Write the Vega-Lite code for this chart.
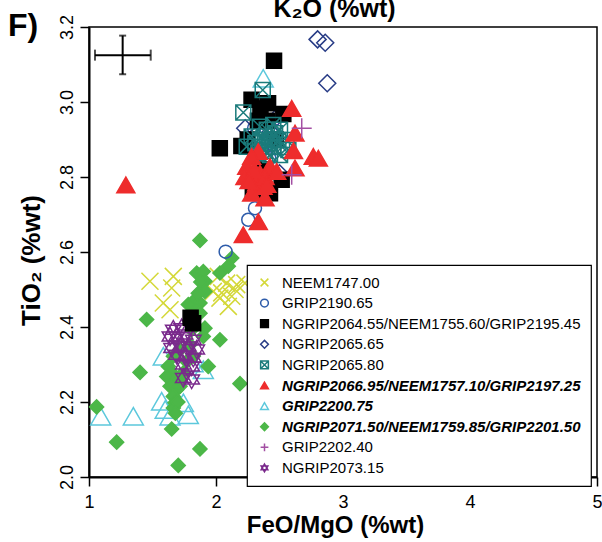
{
  "$schema": "https://vega.github.io/schema/vega-lite/v6.json",
  "autosize": "none",
  "width": 508,
  "height": 450,
  "padding": {"left": 89, "top": 27, "right": 5, "bottom": 65},
  "background": "white",
  "title": {"text": "F)", "anchor": "start", "frame": "group", "fontSize": 32, "font": "Liberation Sans", "fontWeight": "bold", "color": "black", "dx": -81, "dy": 72, "baseline": "alphabetic", "offset": 0},
  "config": {
    "view": {"stroke": "black", "strokeWidth": 1.5},
    "axis": {"domainColor": "black", "domainWidth": 2, "tickColor": "black", "tickWidth": 1.5, "tickSize": 9, "labelColor": "black", "titleColor": "black", "labelFont": "Liberation Sans", "titleFont": "Liberation Sans", "titleFontWeight": "bold", "grid": false},
    "legend": {"orient": "none", "legendX": 158, "legendY": 238, "strokeColor": "black", "strokeWidth": 1.2, "fillColor": "white", "padding": 10, "labelFont": "Liberation Sans", "labelFontSize": 15, "labelColor": "black", "labelLimit": 400, "symbolSize": 60, "symbolStrokeWidth": 1.5, "rowPadding": 4.6, "labelOffset": 10}
  },
  "datasets": {
    "pts": [
      {"s": "GRIP2200.75", "x": 1.092, "y": 2.162},
      {"s": "GRIP2200.75", "x": 1.349, "y": 2.162},
      {"s": "GRIP2200.75", "x": 1.585, "y": 2.322},
      {"s": "GRIP2200.75", "x": 1.9, "y": 2.286},
      {"s": "GRIP2200.75", "x": 1.572, "y": 2.202},
      {"s": "GRIP2200.75", "x": 1.638, "y": 2.162},
      {"s": "GRIP2200.75", "x": 1.743, "y": 2.198},
      {"s": "GRIP2200.75", "x": 1.782, "y": 2.166},
      {"s": "GRIP2200.75", "x": 1.82, "y": 2.304},
      {"s": "GRIP2200.75", "x": 1.6, "y": 2.18},
      {"s": "GRIP2200.75", "x": 2.372, "y": 3.063},
      {"s": "GRIP2200.75", "x": 2.4, "y": 2.9},
      {"s": "NEEM1747.00", "x": 1.48, "y": 2.522},
      {"s": "NEEM1747.00", "x": 1.664, "y": 2.535},
      {"s": "NEEM1747.00", "x": 1.651, "y": 2.504},
      {"s": "NEEM1747.00", "x": 1.585, "y": 2.464},
      {"s": "NEEM1747.00", "x": 1.638, "y": 2.446},
      {"s": "NEEM1747.00", "x": 2.018, "y": 2.535},
      {"s": "NEEM1747.00", "x": 2.084, "y": 2.517},
      {"s": "NEEM1747.00", "x": 2.163, "y": 2.513},
      {"s": "NEEM1747.00", "x": 2.228, "y": 2.517},
      {"s": "NEEM1747.00", "x": 1.979, "y": 2.495},
      {"s": "NEEM1747.00", "x": 2.045, "y": 2.491},
      {"s": "NEEM1747.00", "x": 2.124, "y": 2.482},
      {"s": "NEEM1747.00", "x": 2.097, "y": 2.455},
      {"s": "NEEM1747.00", "x": 2.031, "y": 2.477},
      {"s": "NEEM1747.00", "x": 2.15, "y": 2.5},
      {"s": "NGRIP2071.50/NEEM1759.85/GRIP2201.50", "x": 1.874, "y": 2.631},
      {"s": "NGRIP2071.50/NEEM1759.85/GRIP2201.50", "x": 2.124, "y": 2.584},
      {"s": "NGRIP2071.50/NEEM1759.85/GRIP2201.50", "x": 2.097, "y": 2.562},
      {"s": "NGRIP2071.50/NEEM1759.85/GRIP2201.50", "x": 2.031, "y": 2.544},
      {"s": "NGRIP2071.50/NEEM1759.85/GRIP2201.50", "x": 1.848, "y": 2.544},
      {"s": "NGRIP2071.50/NEEM1759.85/GRIP2201.50", "x": 1.9, "y": 2.548},
      {"s": "NGRIP2071.50/NEEM1759.85/GRIP2201.50", "x": 1.913, "y": 2.522},
      {"s": "NGRIP2071.50/NEEM1759.85/GRIP2201.50", "x": 1.913, "y": 2.495},
      {"s": "NGRIP2071.50/NEEM1759.85/GRIP2201.50", "x": 1.821, "y": 2.468},
      {"s": "NGRIP2071.50/NEEM1759.85/GRIP2201.50", "x": 1.874, "y": 2.464},
      {"s": "NGRIP2071.50/NEEM1759.85/GRIP2201.50", "x": 1.835, "y": 2.451},
      {"s": "NGRIP2071.50/NEEM1759.85/GRIP2201.50", "x": 1.874, "y": 2.437},
      {"s": "NGRIP2071.50/NEEM1759.85/GRIP2201.50", "x": 1.454, "y": 2.42},
      {"s": "NGRIP2071.50/NEEM1759.85/GRIP2201.50", "x": 1.913, "y": 2.397},
      {"s": "NGRIP2071.50/NEEM1759.85/GRIP2201.50", "x": 1.9, "y": 2.375},
      {"s": "NGRIP2071.50/NEEM1759.85/GRIP2201.50", "x": 2.031, "y": 2.366},
      {"s": "NGRIP2071.50/NEEM1759.85/GRIP2201.50", "x": 1.402, "y": 2.279},
      {"s": "NGRIP2071.50/NEEM1759.85/GRIP2201.50", "x": 1.939, "y": 2.295},
      {"s": "NGRIP2071.50/NEEM1759.85/GRIP2201.50", "x": 2.189, "y": 2.249},
      {"s": "NGRIP2071.50/NEEM1759.85/GRIP2201.50", "x": 1.06, "y": 2.187},
      {"s": "NGRIP2071.50/NEEM1759.85/GRIP2201.50", "x": 1.218, "y": 2.093},
      {"s": "NGRIP2071.50/NEEM1759.85/GRIP2201.50", "x": 1.651, "y": 2.128},
      {"s": "NGRIP2071.50/NEEM1759.85/GRIP2201.50", "x": 1.874, "y": 2.075},
      {"s": "NGRIP2071.50/NEEM1759.85/GRIP2201.50", "x": 1.703, "y": 2.031},
      {"s": "NGRIP2071.50/NEEM1759.85/GRIP2201.50", "x": 1.625, "y": 2.295},
      {"s": "NGRIP2071.50/NEEM1759.85/GRIP2201.50", "x": 1.651, "y": 2.278},
      {"s": "NGRIP2071.50/NEEM1759.85/GRIP2201.50", "x": 1.612, "y": 2.268},
      {"s": "NGRIP2071.50/NEEM1759.85/GRIP2201.50", "x": 1.677, "y": 2.26},
      {"s": "NGRIP2071.50/NEEM1759.85/GRIP2201.50", "x": 1.638, "y": 2.242},
      {"s": "NGRIP2071.50/NEEM1759.85/GRIP2201.50", "x": 1.69, "y": 2.233},
      {"s": "NGRIP2071.50/NEEM1759.85/GRIP2201.50", "x": 1.664, "y": 2.215},
      {"s": "NGRIP2071.50/NEEM1759.85/GRIP2201.50", "x": 1.717, "y": 2.242},
      {"s": "NGRIP2071.50/NEEM1759.85/GRIP2201.50", "x": 1.677, "y": 2.198},
      {"s": "NGRIP2071.50/NEEM1759.85/GRIP2201.50", "x": 1.664, "y": 2.184},
      {"s": "NGRIP2071.50/NEEM1759.85/GRIP2201.50", "x": 1.743, "y": 2.278},
      {"s": "NGRIP2071.50/NEEM1759.85/GRIP2201.50", "x": 1.769, "y": 2.308},
      {"s": "NGRIP2071.50/NEEM1759.85/GRIP2201.50", "x": 1.717, "y": 2.34},
      {"s": "NGRIP2071.50/NEEM1759.85/GRIP2201.50", "x": 1.795, "y": 2.353},
      {"s": "NGRIP2071.50/NEEM1759.85/GRIP2201.50", "x": 1.664, "y": 2.322},
      {"s": "NGRIP2071.50/NEEM1759.85/GRIP2201.50", "x": 1.821, "y": 2.322},
      {"s": "NGRIP2071.50/NEEM1759.85/GRIP2201.50", "x": 1.808, "y": 2.393},
      {"s": "NGRIP2071.50/NEEM1759.85/GRIP2201.50", "x": 1.782, "y": 2.46},
      {"s": "NGRIP2071.50/NEEM1759.85/GRIP2201.50", "x": 1.86, "y": 2.49},
      {"s": "NGRIP2071.50/NEEM1759.85/GRIP2201.50", "x": 1.88, "y": 2.52},
      {"s": "NGRIP2071.50/NEEM1759.85/GRIP2201.50", "x": 1.7, "y": 2.2},
      {"s": "NGRIP2071.50/NEEM1759.85/GRIP2201.50", "x": 1.68, "y": 2.17},
      {"s": "NGRIP2071.50/NEEM1759.85/GRIP2201.50", "x": 1.72, "y": 2.26},
      {"s": "NGRIP2073.15", "x": 1.664, "y": 2.393},
      {"s": "NGRIP2073.15", "x": 1.73, "y": 2.397},
      {"s": "NGRIP2073.15", "x": 1.69, "y": 2.375},
      {"s": "NGRIP2073.15", "x": 1.756, "y": 2.38},
      {"s": "NGRIP2073.15", "x": 1.821, "y": 2.366},
      {"s": "NGRIP2073.15", "x": 1.651, "y": 2.344},
      {"s": "NGRIP2073.15", "x": 1.717, "y": 2.348},
      {"s": "NGRIP2073.15", "x": 1.782, "y": 2.348},
      {"s": "NGRIP2073.15", "x": 1.848, "y": 2.34},
      {"s": "NGRIP2073.15", "x": 1.69, "y": 2.326},
      {"s": "NGRIP2073.15", "x": 1.756, "y": 2.322},
      {"s": "NGRIP2073.15", "x": 1.821, "y": 2.318},
      {"s": "NGRIP2073.15", "x": 1.743, "y": 2.3},
      {"s": "NGRIP2073.15", "x": 1.808, "y": 2.295},
      {"s": "NGRIP2073.15", "x": 1.743, "y": 2.264},
      {"s": "NGRIP2073.15", "x": 1.808, "y": 2.26},
      {"s": "NGRIP2073.15", "x": 1.638, "y": 2.375},
      {"s": "GRIP2190.65", "x": 2.307, "y": 2.717},
      {"s": "GRIP2190.65", "x": 2.254, "y": 2.686},
      {"s": "GRIP2190.65", "x": 2.076, "y": 2.601},
      {"s": "GRIP2190.65", "x": 2.42, "y": 2.85},
      {"s": "GRIP2190.65", "x": 2.3, "y": 2.93},
      {"s": "NGRIP2065.65", "x": 2.8, "y": 3.167},
      {"s": "NGRIP2065.65", "x": 2.86, "y": 3.158},
      {"s": "NGRIP2065.65", "x": 2.876, "y": 3.05},
      {"s": "NGRIP2065.65", "x": 2.48, "y": 2.96},
      {"s": "NGRIP2065.65", "x": 2.23, "y": 2.93},
      {"s": "NGRIP2065.65", "x": 2.5, "y": 2.81},
      {"s": "NGRIP2065.65", "x": 2.43, "y": 2.92},
      {"s": "NGRIP2065.65", "x": 2.36, "y": 2.87},
      {"s": "NGRIP2065.65", "x": 2.46, "y": 2.79},
      {"s": "NGRIP2064.55/NEEM1755.60/GRIP2195.45", "x": 2.457, "y": 3.11},
      {"s": "NGRIP2064.55/NEEM1755.60/GRIP2195.45", "x": 2.28, "y": 3.006},
      {"s": "NGRIP2064.55/NEEM1755.60/GRIP2195.45", "x": 2.41, "y": 2.997},
      {"s": "NGRIP2064.55/NEEM1755.60/GRIP2195.45", "x": 2.35, "y": 2.983},
      {"s": "NGRIP2064.55/NEEM1755.60/GRIP2195.45", "x": 2.53, "y": 2.968},
      {"s": "NGRIP2064.55/NEEM1755.60/GRIP2195.45", "x": 2.03, "y": 2.877},
      {"s": "NGRIP2064.55/NEEM1755.60/GRIP2195.45", "x": 2.2, "y": 2.883},
      {"s": "NGRIP2064.55/NEEM1755.60/GRIP2195.45", "x": 2.31, "y": 2.788},
      {"s": "NGRIP2064.55/NEEM1755.60/GRIP2195.45", "x": 2.425, "y": 2.757},
      {"s": "NGRIP2064.55/NEEM1755.60/GRIP2195.45", "x": 2.517, "y": 2.793},
      {"s": "NGRIP2064.55/NEEM1755.60/GRIP2195.45", "x": 1.8, "y": 2.425},
      {"s": "NGRIP2064.55/NEEM1755.60/GRIP2195.45", "x": 1.82, "y": 2.41},
      {"s": "NGRIP2064.55/NEEM1755.60/GRIP2195.45", "x": 2.33, "y": 2.95},
      {"s": "NGRIP2064.55/NEEM1755.60/GRIP2195.45", "x": 2.4, "y": 2.95},
      {"s": "NGRIP2064.55/NEEM1755.60/GRIP2195.45", "x": 2.47, "y": 2.9},
      {"s": "NGRIP2064.55/NEEM1755.60/GRIP2195.45", "x": 2.25, "y": 2.9},
      {"s": "NGRIP2064.55/NEEM1755.60/GRIP2195.45", "x": 2.36, "y": 2.82},
      {"s": "NGRIP2064.55/NEEM1755.60/GRIP2195.45", "x": 2.29, "y": 2.76},
      {"s": "NGRIP2065.80", "x": 2.368, "y": 3.032},
      {"s": "NGRIP2065.80", "x": 2.215, "y": 2.972},
      {"s": "NGRIP2065.80", "x": 2.346, "y": 2.934},
      {"s": "NGRIP2065.80", "x": 2.451, "y": 2.939},
      {"s": "NGRIP2065.80", "x": 2.504, "y": 2.926},
      {"s": "NGRIP2065.80", "x": 2.281, "y": 2.908},
      {"s": "NGRIP2065.80", "x": 2.386, "y": 2.908},
      {"s": "NGRIP2065.80", "x": 2.491, "y": 2.899},
      {"s": "NGRIP2065.80", "x": 2.556, "y": 2.899},
      {"s": "NGRIP2065.80", "x": 2.242, "y": 2.881},
      {"s": "NGRIP2065.80", "x": 2.346, "y": 2.881},
      {"s": "NGRIP2065.80", "x": 2.451, "y": 2.881},
      {"s": "NGRIP2065.80", "x": 2.57, "y": 2.872},
      {"s": "NGRIP2065.80", "x": 2.333, "y": 2.864},
      {"s": "NGRIP2065.80", "x": 2.425, "y": 2.859},
      {"s": "NGRIP2065.80", "x": 2.504, "y": 2.859},
      {"s": "NGRIP2065.80", "x": 2.4, "y": 2.926},
      {"s": "NGRIP2065.80", "x": 2.465, "y": 2.917},
      {"s": "NGRIP2065.80", "x": 2.37, "y": 2.899},
      {"s": "NGRIP2065.80", "x": 2.31, "y": 2.89},
      {"s": "NGRIP2065.80", "x": 2.42, "y": 2.89},
      {"s": "NGRIP2065.80", "x": 2.52, "y": 2.88},
      {"s": "NGRIP2065.80", "x": 2.38, "y": 2.87},
      {"s": "NGRIP2065.80", "x": 2.44, "y": 2.9},
      {"s": "NGRIP2066.95/NEEM1757.10/GRIP2197.25", "x": 2.596, "y": 2.983},
      {"s": "NGRIP2066.95/NEEM1757.10/GRIP2197.25", "x": 2.622, "y": 2.917},
      {"s": "NGRIP2066.95/NEEM1757.10/GRIP2197.25", "x": 2.766, "y": 2.855},
      {"s": "NGRIP2066.95/NEEM1757.10/GRIP2197.25", "x": 2.806, "y": 2.85},
      {"s": "NGRIP2066.95/NEEM1757.10/GRIP2197.25", "x": 2.622, "y": 2.824},
      {"s": "NGRIP2066.95/NEEM1757.10/GRIP2197.25", "x": 2.333, "y": 2.868},
      {"s": "NGRIP2066.95/NEEM1757.10/GRIP2197.25", "x": 2.242, "y": 2.828},
      {"s": "NGRIP2066.95/NEEM1757.10/GRIP2197.25", "x": 2.425, "y": 2.828},
      {"s": "NGRIP2066.95/NEEM1757.10/GRIP2197.25", "x": 2.478, "y": 2.815},
      {"s": "NGRIP2066.95/NEEM1757.10/GRIP2197.25", "x": 2.228, "y": 2.801},
      {"s": "NGRIP2066.95/NEEM1757.10/GRIP2197.25", "x": 2.346, "y": 2.81},
      {"s": "NGRIP2066.95/NEEM1757.10/GRIP2197.25", "x": 2.32, "y": 2.784},
      {"s": "NGRIP2066.95/NEEM1757.10/GRIP2197.25", "x": 2.281, "y": 2.757},
      {"s": "NGRIP2066.95/NEEM1757.10/GRIP2197.25", "x": 2.386, "y": 2.744},
      {"s": "NGRIP2066.95/NEEM1757.10/GRIP2197.25", "x": 2.333, "y": 2.681},
      {"s": "NGRIP2066.95/NEEM1757.10/GRIP2197.25", "x": 2.215, "y": 2.646},
      {"s": "NGRIP2066.95/NEEM1757.10/GRIP2197.25", "x": 2.37, "y": 2.775},
      {"s": "NGRIP2066.95/NEEM1757.10/GRIP2197.25", "x": 2.386, "y": 2.801},
      {"s": "NGRIP2066.95/NEEM1757.10/GRIP2197.25", "x": 2.281, "y": 2.855},
      {"s": "NGRIP2066.95/NEEM1757.10/GRIP2197.25", "x": 1.29, "y": 2.779},
      {"s": "NGRIP2066.95/NEEM1757.10/GRIP2197.25", "x": 2.3, "y": 2.82},
      {"s": "NGRIP2066.95/NEEM1757.10/GRIP2197.25", "x": 2.4, "y": 2.78},
      {"s": "NGRIP2066.95/NEEM1757.10/GRIP2197.25", "x": 2.61, "y": 2.87},
      {"s": "NGRIP2066.95/NEEM1757.10/GRIP2197.25", "x": 2.26, "y": 2.79},
      {"s": "GRIP2202.40", "x": 2.675, "y": 2.93},
      {"s": "GRIP2202.40", "x": 2.596, "y": 2.806}
    ],
    "errh": [{"x": 1.047, "x2": 1.486, "y": 3.125}],
    "errv": [{"x": 1.265, "y": 3.074, "y2": 3.177}]
  },
  "layer": [
    {
      "data": {"name": "pts"},
      "mark": {"type": "point", "opacity": 1, "strokeWidth": 1.5},
      "encoding": {
        "x": {"field": "x", "type": "quantitative", "scale": {"domain": [1, 5], "nice": false, "zero": false},
          "axis": {"orient": "bottom", "values": [1, 2, 3, 4, 5], "format": "d", "title": "FeO/MgO (%wt)", "titleFontSize": 24, "titleX": 246, "titleY": 55, "titleBaseline": "alphabetic", "titleAlign": "center", "labelFontSize": 18, "labelPadding": 7, "labelFlush": false, "labelOverlap": false}},
        "y": {"field": "y", "type": "quantitative", "scale": {"domain": [2, 3.2], "nice": false, "zero": false},
          "axis": {"values": [2, 2.2, 2.4, 2.6, 2.8, 3, 3.2], "format": ".1f", "labelAngle": -90, "labelAlign": "center", "labelBaseline": "bottom", "labelFontSize": 18, "labelPadding": 4, "labelFlush": false, "labelOverlap": false, "title": "TiO₂ (%wt)", "titleFontSize": 26, "titleX": -58, "titleY": 233, "titleAlign": "center", "titleBaseline": "middle", "titleAngle": -90}},
        "shape": {"field": "s", "type": "nominal", "title": null,
          "scale": {"domain": ["NEEM1747.00", "GRIP2190.65", "NGRIP2064.55/NEEM1755.60/GRIP2195.45", "NGRIP2065.65", "NGRIP2065.80", "NGRIP2066.95/NEEM1757.10/GRIP2197.25", "GRIP2200.75", "NGRIP2071.50/NEEM1759.85/GRIP2201.50", "GRIP2202.40", "NGRIP2073.15"],
            "range": ["M-1,-1L1,1M1,-1L-1,1", "circle", "square", "diamond", "M-1,-1H1V1H-1ZM-1,-1L1,1M1,-1L-1,1", "triangle-up", "triangle-up", "diamond", "M-1,0H1M0,-1V1", "M0,-1L0.866,0.5L-0.866,0.5ZM0,1L-0.866,-0.5L0.866,-0.5Z"]},
          "legend": {"title": null, "orient": "none", "legendX": 158, "legendY": 238,
            "labelFontWeight": {"expr": "indexof(['NGRIP2066.95/NEEM1757.10/GRIP2197.25','GRIP2200.75','NGRIP2071.50/NEEM1759.85/GRIP2201.50'], datum.label) >= 0 ? 'bold' : 'normal'"},
            "labelFontStyle": {"expr": "indexof(['NGRIP2066.95/NEEM1757.10/GRIP2197.25','GRIP2200.75','NGRIP2071.50/NEEM1759.85/GRIP2201.50'], datum.label) >= 0 ? 'italic' : 'normal'"}}},
        "fill": {"field": "s", "type": "nominal", "title": null,
          "scale": {"domain": ["NEEM1747.00", "GRIP2190.65", "NGRIP2064.55/NEEM1755.60/GRIP2195.45", "NGRIP2065.65", "NGRIP2065.80", "NGRIP2066.95/NEEM1757.10/GRIP2197.25", "GRIP2200.75", "NGRIP2071.50/NEEM1759.85/GRIP2201.50", "GRIP2202.40", "NGRIP2073.15"],
            "range": ["transparent", "transparent", "#000000", "transparent", "transparent", "#ee2c2c", "transparent", "#4cb748", "transparent", "transparent"]},
          "legend": {"title": null, "orient": "none", "legendX": 158, "legendY": 238,
            "labelFontWeight": {"expr": "indexof(['NGRIP2066.95/NEEM1757.10/GRIP2197.25','GRIP2200.75','NGRIP2071.50/NEEM1759.85/GRIP2201.50'], datum.label) >= 0 ? 'bold' : 'normal'"},
            "labelFontStyle": {"expr": "indexof(['NGRIP2066.95/NEEM1757.10/GRIP2197.25','GRIP2200.75','NGRIP2071.50/NEEM1759.85/GRIP2201.50'], datum.label) >= 0 ? 'italic' : 'normal'"}}},
        "stroke": {"field": "s", "type": "nominal", "title": null,
          "scale": {"domain": ["NEEM1747.00", "GRIP2190.65", "NGRIP2064.55/NEEM1755.60/GRIP2195.45", "NGRIP2065.65", "NGRIP2065.80", "NGRIP2066.95/NEEM1757.10/GRIP2197.25", "GRIP2200.75", "NGRIP2071.50/NEEM1759.85/GRIP2201.50", "GRIP2202.40", "NGRIP2073.15"],
            "range": ["#d4d838", "#2e5caa", "#000000", "#283c86", "#1b7b7b", "#ee2c2c", "#5cc8dc", "#4cb748", "#a34fa3", "#7a2a8c"]},
          "legend": {"title": null, "orient": "none", "legendX": 158, "legendY": 238,
            "labelFontWeight": {"expr": "indexof(['NGRIP2066.95/NEEM1757.10/GRIP2197.25','GRIP2200.75','NGRIP2071.50/NEEM1759.85/GRIP2201.50'], datum.label) >= 0 ? 'bold' : 'normal'"},
            "labelFontStyle": {"expr": "indexof(['NGRIP2066.95/NEEM1757.10/GRIP2197.25','GRIP2200.75','NGRIP2071.50/NEEM1759.85/GRIP2201.50'], datum.label) >= 0 ? 'italic' : 'normal'"}}},
        "size": {"field": "s", "type": "nominal", "legend": null,
          "scale": {"type": "ordinal", "domain": ["NGRIP2073.15", "GRIP2202.40", "NGRIP2071.50/NEEM1759.85/GRIP2201.50", "GRIP2200.75", "NGRIP2066.95/NEEM1757.10/GRIP2197.25", "NGRIP2065.80", "NGRIP2065.65", "NGRIP2064.55/NEEM1755.60/GRIP2195.45", "GRIP2190.65", "NEEM1747.00"],
            "range": [324, 400, 196, 400, 324, 225, 289, 225, 169, 289]}}
      }
    },
    {
      "data": {"name": "errh"},
      "mark": {"type": "errorbar", "color": "black", "thickness": 2, "ticks": {"size": 11, "thickness": 2, "color": "black"}},
      "encoding": {
        "x": {"field": "x", "type": "quantitative", "axis": {"orient": "top", "domain": false, "ticks": false, "labels": false, "grid": false, "title": "K₂O (%wt)", "titleFontSize": 25, "titleX": 245, "titleY": -11, "titleBaseline": "alphabetic", "titleAlign": "center"}},
        "x2": {"field": "x2"},
        "y": {"field": "y", "type": "quantitative", "title": "TiO₂ (%wt)"}
      }
    },
    {
      "data": {"name": "errv"},
      "mark": {"type": "errorbar", "color": "black", "thickness": 2, "ticks": {"size": 7, "thickness": 2, "color": "black"}},
      "encoding": {
        "x": {"field": "x", "type": "quantitative", "axis": null},
        "y": {"field": "y", "type": "quantitative", "title": "TiO₂ (%wt)"},
        "y2": {"field": "y2"}
      }
    }
  ],
  "resolve": {"axis": {"x": "independent"}}
}
